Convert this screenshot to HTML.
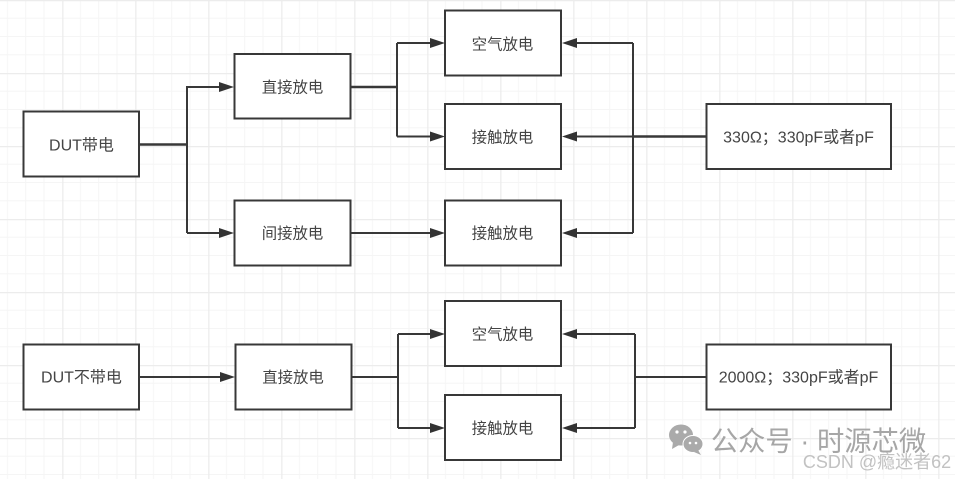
<!DOCTYPE html>
<html><head><meta charset="utf-8"><style>
html,body{margin:0;padding:0;background:#fff}
svg{display:block;filter:blur(.35px)}
text{font-family:"Liberation Sans","Noto Sans CJK SC",sans-serif;font-size:15.4px;fill:#444;text-anchor:middle;dominant-baseline:central}
.w{font-size:16px}
.b{fill:#fff;stroke:#383838;stroke-width:2}
.l{fill:none;stroke:#383838;stroke-width:2}
.t{fill:none;stroke:#383838;stroke-width:2.600}
.a{fill:#333}
</style></head><body>
<svg width="955" height="479" viewBox="0 0 955 479" xmlns="http://www.w3.org/2000/svg">
<defs>
<pattern id="g" x="-10.8" y="0" width="73" height="73" patternUnits="userSpaceOnUse">
<path d="M18.25 0V73M36.5 0V73M54.75 0V73M0 18.25H73M0 36.5H73M0 54.75H73" stroke="#f5f5f5" stroke-width="1" fill="none"/>
<path d="M.5 0V73M0 .5H73" stroke="#ececec" stroke-width="1.6" fill="none"/>
</pattern>
</defs>
<rect width="955" height="479" fill="#fff"/>
<rect width="955" height="479" fill="url(#g)"/>

<path class="l" d="M187 233V87H222M187 233H222"/>
<path class="t" d="M139 144.500H187"/>
<path class="l" d="M397 43V136.500M397 43H432M397 136.500H432"/>
<path class="t" d="M350 87H397"/>
<path class="l" d="M350 233H432"/>
<path class="l" d="M633 43V233M633 43H574M633 233H574M633 136.500H574"/>
<path class="t" d="M706 136.500H633"/>
<path class="l" d="M139 377H222"/>
<path class="l" d="M351 377H398M398 334V428M398 334H432M398 428H432"/>
<path class="l" d="M706 377H635M635 334V428M635 334H574M635 428H574"/>

<g class="a">
<path d="M234 87l-15-5v10zM445 43l-15-5v10zM445 136.500l-15-5v10zM445 233l-15-5v10zM234 233l-15-5v10z"/>
<path d="M562 43l15-5v10zM562 136.500l15-5v10zM562 233l15-5v10z"/>
<path d="M235 377l-15-5v10zM445 334l-15-5v10zM445 428l-15-5v10z"/>
<path d="M562 334l15-5v10zM562 428l15-5v10z"/>
</g>

<rect class="b" x="23.500" y="111.500" width="115.500" height="65"/>
<rect class="b" x="234.500" y="54" width="116" height="64.500"/>
<rect class="b" x="234.500" y="200.500" width="116" height="65"/>
<rect class="b" x="445" y="10.500" width="116" height="65"/>
<rect class="b" x="445" y="104" width="116" height="65"/>
<rect class="b" x="445" y="200.500" width="116" height="65"/>
<rect class="b" x="706.500" y="104" width="184.500" height="65"/>
<rect class="b" x="23.500" y="344.500" width="115.500" height="65"/>
<rect class="b" x="235.500" y="344.500" width="116" height="65"/>
<rect class="b" x="445" y="301" width="116" height="65"/>
<rect class="b" x="445" y="395" width="116" height="65"/>
<rect class="b" x="706.500" y="344.500" width="184.500" height="65"/>

<text class="w" x="81.500" y="146">DUT带电</text>
<text x="292.500" y="88">直接放电</text>
<text x="292.500" y="234">间接放电</text>
<text x="502.500" y="45">空气放电</text>
<text x="502.500" y="138">接触放电</text>
<text x="502.500" y="234">接触放电</text>
<text class="w" x="798.500" y="138">330Ω；330pF或者pF</text>
<text class="w" x="81.500" y="378">DUT不带电</text>
<text x="293" y="378">直接放电</text>
<text x="502.500" y="335">空气放电</text>
<text x="502.500" y="429">接触放电</text>
<text class="w" x="798.500" y="378">2000Ω；330pF或者pF</text>

<g fill="#aaa">
<ellipse cx="681" cy="435" rx="12" ry="10.500"/>
<path d="M673 442l-1 7 7-4z"/>
<ellipse cx="693" cy="444" rx="10" ry="8.500" stroke="#fff" stroke-width="1"/>
<path d="M698 450l3 5-7-3z"/>
</g>
<g fill="#fff">
<circle cx="677" cy="432" r="1.600"/><circle cx="685" cy="432" r="1.600"/>
<circle cx="690" cy="443" r="1.300"/><circle cx="696" cy="443" r="1.300"/>
</g>
<text x="818.500" y="441" style="font-size:27.300px;fill:#a6a6a6">公众号 · 时源芯微</text>
<text x="877" y="462" style="font-size:18px;fill:#c2c2c2">CSDN @瘾迷者62</text>
</svg>
</body></html>
